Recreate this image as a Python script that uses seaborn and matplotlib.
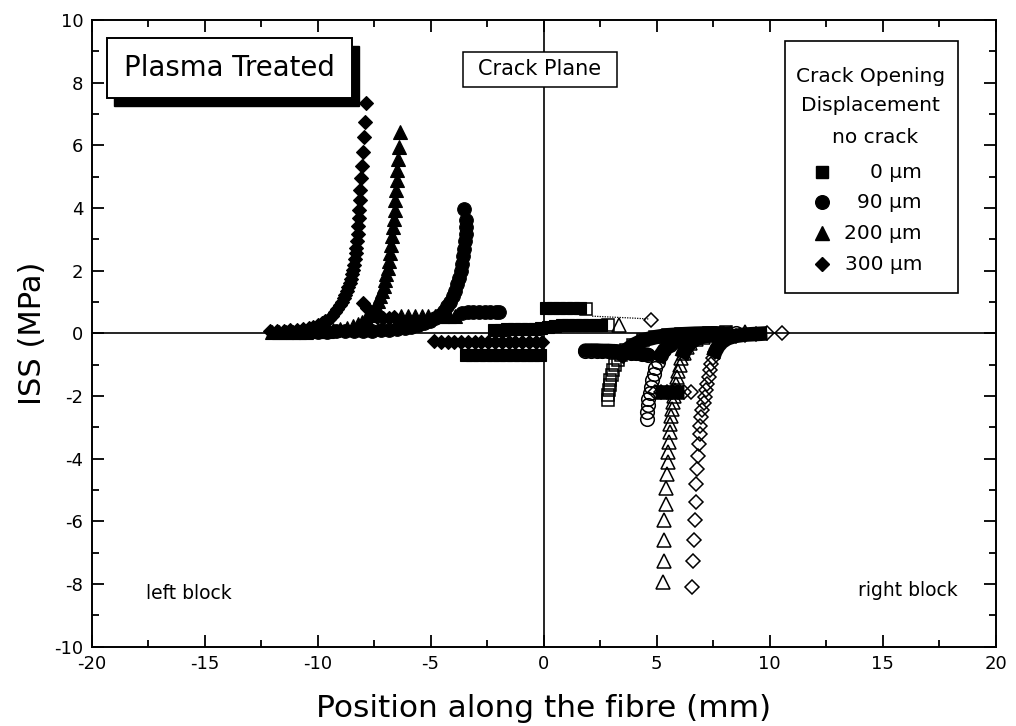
import matplotlib
matplotlib.use("Agg")
import matplotlib.pyplot as plt
import seaborn as sns
from matplotlib.patches import Rectangle
from matplotlib.ticker import MultipleLocator

sns.set_theme(style="ticks")
plt.rcParams['font.family'] = ['DejaVu Sans']
plt.rcParams['axes.unicode_minus'] = False
plt.rcParams['text.color'] = 'black'
plt.rcParams['axes.labelcolor'] = 'black'
plt.rcParams['xtick.color'] = 'black'
plt.rcParams['ytick.color'] = 'black'

# ---------------- left block (filled symbols) ----------------
# 300 um : toe -> debond tip peak
d300_x = [-12.1, -11.8, -11.5, -11.2, -10.9, -10.65, -10.4, -10.2, -10.0, -9.82,
          -9.65, -9.5, -9.35, -9.23, -9.12, -9.02, -8.93, -8.85, -8.77, -8.7,
          -8.64, -8.58, -8.53, -8.48, -8.43, -8.39, -8.35, -8.31, -8.28, -8.25,
          -8.22, -8.19, -8.17, -8.15, -8.13, -8.11, -8.07, -8.02, -8.0, -7.96,
          -7.92, -7.85]
d300_y = [0.06, 0.07, 0.08, 0.1, 0.12, 0.14, 0.17, 0.21, 0.26, 0.32,
          0.39, 0.47, 0.57, 0.67, 0.78, 0.89, 1.0, 1.12, 1.24, 1.36,
          1.48, 1.61, 1.74, 1.88, 2.03, 2.19, 2.36, 2.55, 2.74, 2.95,
          3.18, 3.42, 3.68, 3.95, 4.25, 4.57, 4.95, 5.34, 5.79, 6.27,
          6.75, 7.34]
# 300 um : debonded (friction) zones
d300_fr1_x = [-8.0, -7.8, -7.6, -7.35, -7.1, -6.85, -6.6]
d300_fr1_y = [0.97, 0.8, 0.64, 0.52, 0.48, 0.5, 0.52]
d300_fr2_x = [-4.85, -4.55, -4.25, -3.95, -3.65, -3.35, -3.05, -2.75, -2.45,
              -2.15, -1.85, -1.55, -1.25, -0.95, -0.65, -0.35, -0.08]
d300_fr2_y = [-0.24, -0.26, -0.27, -0.27, -0.27, -0.27, -0.27, -0.27, -0.27,
              -0.27, -0.27, -0.27, -0.27, -0.27, -0.27, -0.27, -0.27]

# 200 um
d200_x = [-6.37, -6.40, -6.44, -6.47, -6.50, -6.53, -6.56, -6.59, -6.62, -6.66,
          -6.70, -6.74, -6.79, -6.84, -6.89, -6.95, -7.01, -7.08, -7.15, -7.23,
          -7.32, -7.42, -7.54, -7.68, -7.84, -8.02, -8.22, -8.45, -8.7, -9.0,
          -9.3, -9.6, -9.9, -10.2, -10.5, -10.8, -11.1, -11.4, -11.7, -12.0]
d200_y = [6.43, 5.95, 5.58, 5.21, 4.89, 4.57, 4.25, 3.95, 3.66, 3.38,
          3.1, 2.83, 2.57, 2.32, 2.1, 1.9, 1.71, 1.52, 1.35, 1.18,
          1.02, 0.87, 0.73, 0.6, 0.48, 0.37, 0.29, 0.22, 0.17, 0.13,
          0.1, 0.08, 0.07, 0.06, 0.05, 0.05, 0.04, 0.04, 0.04, 0.04]
d200_fr_x = [-6.3, -6.0, -5.7, -5.4, -5.1, -4.8, -4.5, -4.2, -3.9]
d200_fr_y = [0.55, 0.55, 0.55, 0.55, 0.55, 0.55, 0.55, 0.55, 0.55]

# 90 um
d90_x = [-3.5, -3.42, -3.43, -3.45, -3.48, -3.51, -3.55, -3.6, -3.66, -3.73,
         -3.81, -3.9, -4.0, -4.12, -4.26, -4.42, -4.6, -4.8, -5.02, -5.27,
         -5.55, -5.85, -6.15, -6.5, -6.85, -7.2, -7.6, -8.0, -8.4, -8.8,
         -9.2, -9.6, -10.0, -10.4, -10.8, -11.2]
d90_y = [3.98, 3.61, 3.4, 3.18, 2.95, 2.7, 2.46, 2.22, 1.99, 1.77,
         1.56, 1.36, 1.18, 1.01, 0.86, 0.72, 0.6, 0.49, 0.4, 0.32,
         0.26, 0.21, 0.17, 0.14, 0.12, 0.1, 0.09, 0.08, 0.07, 0.06,
         0.06, 0.05, 0.05, 0.05, 0.05, 0.05]
d90_fr_x = [-3.6, -3.35, -3.1, -2.85, -2.6, -2.35, -2.1, -1.95]
d90_fr_y = [0.66, 0.67, 0.67, 0.68, 0.68, 0.69, 0.69, 0.69]

# 0 um
d0_a_x = [-3.45, -3.15, -2.85, -2.55, -2.25, -1.95, -1.65, -1.35, -1.05, -0.75, -0.45, -0.15]
d0_a_y = [-0.68, -0.68, -0.68, -0.68, -0.68, -0.68, -0.68, -0.68, -0.68, -0.68, -0.68, -0.68]
d0_b_x = [0.1, 0.4, 0.7, 1.0, 1.3, 1.6]
d0_b_y = [0.8, 0.8, 0.8, 0.8, 0.8, 0.8]
d0_c_x = [-2.2, -1.9, -1.6, -1.3, -1.0, -0.7, -0.4, -0.1, 0.2, 0.5, 0.8, 1.1,
          1.4, 1.7, 2.0, 2.3, 2.55]
d0_c_y = [0.12, 0.12, 0.13, 0.13, 0.14, 0.14, 0.15, 0.16, 0.2, 0.24, 0.26, 0.27,
          0.27, 0.28, 0.28, 0.28, 0.28]

# ---------------- right block (open symbols) ----------------
o0_x = [2.85, 2.85, 2.9, 2.92, 2.96, 3.02, 3.09, 3.18, 3.28, 3.43, 3.65, 3.95,
        4.4, 4.95, 5.5, 6.1, 6.7, 7.3, 7.7, 8.08]
o0_y = [-2.14, -1.98, -1.82, -1.66, -1.5, -1.34, -1.18, -1.02, -0.86, -0.7, -0.54,
        -0.38, -0.22, -0.12, -0.06, -0.03, -0.01, 0.0, 0.0, 0.03]
o0_pts_x = [1.89, 2.85]
o0_pts_y = [0.79, 0.28]

o90_x = [4.57, 4.57, 4.6, 4.64, 4.69, 4.74, 4.8, 4.87, 4.95, 5.05, 5.18, 5.35,
         5.6, 5.95, 6.4, 6.9, 7.5, 8.0, 8.5]
o90_y = [-2.73, -2.51, -2.3, -2.1, -1.9, -1.7, -1.5, -1.3, -1.1, -0.9, -0.7, -0.52,
         -0.36, -0.22, -0.12, -0.06, -0.03, -0.01, 0.0]
o90_fr_x = [1.85, 2.1, 2.35, 2.6, 2.85, 3.1, 3.35, 3.6, 3.85, 4.1, 4.35, 4.6]
o90_fr_y = [-0.55, -0.55, -0.55, -0.56, -0.56, -0.57, -0.58, -0.6, -0.62, -0.64, -0.66, -0.68]

o200_x = [5.28, 5.31, 5.35, 5.35, 5.4, 5.43, 5.46, 5.49, 5.5, 5.54, 5.58, 5.61,
          5.65, 5.69, 5.72, 5.76, 5.8, 5.84, 5.89, 5.95, 6.02, 6.1, 6.2, 6.33,
          6.5, 6.75, 7.05, 7.4, 7.8, 8.3, 8.9]
o200_y = [-7.95, -7.25, -6.61, -5.97, -5.43, -4.95, -4.5, -4.12, -3.79, -3.47,
          -3.15, -2.88, -2.65, -2.4, -2.2, -2.0, -1.8, -1.6, -1.4, -1.2, -1.0,
          -0.8, -0.62, -0.45, -0.3, -0.18, -0.1, -0.05, -0.02, 0.0, 0.03]
o200_pts_x = [3.36]
o200_pts_y = [0.28]

o300_x = [6.58, 6.61, 6.64, 6.68, 6.73, 6.76, 6.79, 6.83, 6.87, 6.9, 6.93, 6.98,
          7.02, 7.08, 7.14, 7.2, 7.25, 7.3, 7.36, 7.42, 7.5, 7.6, 7.73, 7.9,
          8.15, 8.5, 8.9, 9.4, 9.9, 10.56]
o300_y = [-8.1, -7.25, -6.61, -5.97, -5.39, -4.8, -4.32, -3.9, -3.52, -3.2, -2.94,
          -2.67, -2.44, -2.23, -2.03, -1.82, -1.6, -1.38, -1.17, -0.97, -0.77,
          -0.58, -0.41, -0.27, -0.15, -0.08, -0.04, -0.02, 0.0, 0.01]
o300_fr_x = [4.95, 5.2, 5.45, 5.7, 5.95, 6.2, 6.53]
o300_fr_y = [-1.87, -1.87, -1.87, -1.87, -1.87, -1.87, -1.87]
o300_pts_x = [4.77]
o300_pts_y = [0.42]

# no crack reference
nc_x = [2.15, 3.0, 3.9, 4.65]
nc_y = [0.55, 0.52, 0.49, 0.46]

legend_labels = ["0 \u00b5m", "90 \u00b5m", "200 \u00b5m", "300 \u00b5m"]
legend_markers = ["s", "o", "^", "D"]

MS = {"s": 9.0, "o": 9.8, "^": 10.0, "D": 7.6}
BAND_LW = 10.5


def marks(ax, xs, ys, marker, filled):
    sns.lineplot(x=xs, y=ys, ax=ax, estimator=None, sort=False, errorbar=None,
                 linestyle="none", marker=marker, markersize=MS[marker],
                 markerfacecolor="black" if filled else "none",
                 markeredgecolor="black", markeredgewidth=0.8 if filled else 1.1,
                 color="black", legend=False, zorder=3)


def band(ax, xs, ys, cap="butt"):
    sns.lineplot(x=xs, y=ys, ax=ax, estimator=None, sort=False, errorbar=None,
                 color="black", linewidth=BAND_LW, solid_capstyle=cap,
                 solid_joinstyle="round", legend=False, zorder=2.5)


fig = plt.figure(figsize=(10.16, 7.26), dpi=100)
ax = fig.add_axes([0.0901, 0.1092, 0.8898, 0.8632])

ax.axhline(0, color="black", lw=1.2, zorder=1)
ax.axvline(0, color="black", lw=1.2, zorder=1)

# left block, filled symbols
marks(ax, d300_x, d300_y, "D", True)
marks(ax, d300_fr1_x, d300_fr1_y, "D", True)
marks(ax, d300_fr2_x, d300_fr2_y, "D", True)
marks(ax, d200_x, d200_y, "^", True)
marks(ax, d200_fr_x, d200_fr_y, "^", True)
marks(ax, d90_x, d90_y, "o", True)
marks(ax, d90_fr_x, d90_fr_y, "o", True)
marks(ax, d0_a_x, d0_a_y, "s", True)
marks(ax, d0_b_x, d0_b_y, "s", True)
marks(ax, d0_c_x, d0_c_y, "s", True)

# right block, open symbols; the densely packed parts merge into solid bands
for xs, ys, m in [(o0_x, o0_y, "s"), (o90_x, o90_y, "o"),
                  (o200_x, o200_y, "^"), (o300_x, o300_y, "D")]:
    dense = [i for i, v in enumerate(ys) if v > -0.95]
    band(ax, [xs[i] for i in dense[:-1]], [ys[i] for i in dense[:-1]])
    marks(ax, xs, ys, m, False)
band(ax, o90_fr_x, o90_fr_y, cap="round")
marks(ax, o90_fr_x, o90_fr_y, "o", False)
band(ax, o300_fr_x[:-1], o300_fr_y[:-1])
marks(ax, o300_fr_x, o300_fr_y, "D", False)
marks(ax, o0_pts_x, o0_pts_y, "s", False)
marks(ax, o200_pts_x, o200_pts_y, "^", False)
marks(ax, o300_pts_x, o300_pts_y, "D", False)

sns.lineplot(x=nc_x, y=nc_y, ax=ax, estimator=None, sort=False, errorbar=None,
             color="black", linewidth=0.9, linestyle=(0, (1, 1)), legend=False, zorder=2)

# axes
ax.set_xlim(-20, 20)
ax.set_ylim(-10, 10)
ax.set_xticks(range(-20, 21, 5))
ax.set_yticks(range(-10, 11, 2))
ax.xaxis.set_minor_locator(MultipleLocator(2.5))
ax.yaxis.set_minor_locator(MultipleLocator(1))
ax.tick_params(which="both", direction="in", top=True, right=True,
               width=1.3, color="black", labelsize=13, labelcolor="black")
ax.tick_params(which="major", length=8.4, pad=6)
ax.tick_params(which="minor", length=4.8)
for s in ax.spines.values():
    s.set_linewidth(1.4)
    s.set_color("black")
ax.set_xlabel("Position along the fibre (mm)", fontsize=22.5, color="black", labelpad=15)
ax.set_ylabel("ISS (MPa)", fontsize=22, color="black", labelpad=5)
ax.set_facecolor("white")
fig.patch.set_facecolor("white")

T = ax.transAxes
# "Plasma Treated" label with drop shadow
ax.add_patch(Rectangle((0.0171 + 0.0077, 0.8754 - 0.0128), 0.2711, 0.0957,
                       transform=T, facecolor="black", edgecolor="black", zorder=5))
ax.add_patch(Rectangle((0.0171, 0.8754), 0.2711, 0.0957, transform=T,
                       facecolor="white", edgecolor="black", lw=1.4, zorder=6))
ax.text(0.1526, 0.9234, "Plasma Treated", transform=T, ha="center", va="center",
        fontsize=19.8, zorder=7)

# crack plane label
ax.add_patch(Rectangle((0.4113, 0.8936), 0.1697, 0.0558, transform=T,
                       facecolor="white", edgecolor="black", lw=1.1, zorder=6))
ax.text(0.4961, 0.9215, "Crack Plane", transform=T, ha="center", va="center",
        fontsize=15, zorder=7)

# key
ax.add_patch(Rectangle((0.7666, 0.5643), 0.1919, 0.4021, transform=T,
                       facecolor="white", edgecolor="black", lw=1.2, zorder=6))
ax.text(0.8612, 0.9106, "Crack Opening", transform=T, ha="center", va="center",
        fontsize=14.5, zorder=7)
ax.text(0.8612, 0.8644, "Displacement", transform=T, ha="center", va="center",
        fontsize=14.5, zorder=7)
ax.text(0.9143, 0.8133, "no crack", transform=T, ha="right", va="center",
        fontsize=14.5, zorder=7)
for lab, m, fy in zip(legend_labels, legend_markers, [0.7575, 0.7096, 0.6601, 0.6107]):
    ax.plot([0.8081], [fy], transform=T, marker=m, markersize=MS[m],
            color="black", linestyle="none", zorder=7, clip_on=False)
    ax.text(0.9187, fy, lab, transform=T, ha="right", va="center", fontsize=14.5, zorder=7)

ax.text(0.0603, 0.0857, "left block", transform=T, ha="left", va="center", fontsize=13.5)
ax.text(0.8479, 0.0905, "right block", transform=T, ha="left", va="center", fontsize=13.5)

fig.savefig("out.png", dpi=100)
